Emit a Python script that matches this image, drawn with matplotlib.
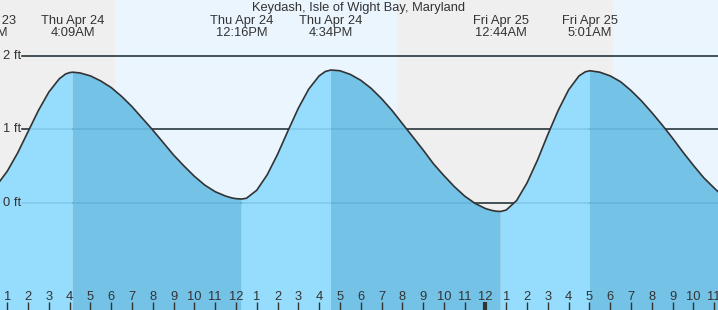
import numpy as np
import matplotlib
matplotlib.use("Agg")
import matplotlib.pyplot as plt

plt.rcParams['font.family'] = ['Liberation Sans', 'DejaVu Sans']

# tide height (ft), time in hours from Thu Apr 24 00:00
curve_hours = [0.5, 1.0, 1.5, 2.0, 2.5, 3.0, 3.5, 3.8, 4.0, 4.15,
               4.5, 5.0, 5.5, 6.0, 6.5, 7.0, 7.5, 8.0, 8.5, 9.0, 9.5, 10.0,
               10.5, 11.0, 11.5, 11.8, 12.0, 12.27,
               12.5, 13.0, 13.5, 14.0, 14.5, 15.0, 15.5, 16.0, 16.3, 16.57,
               17.0, 17.5, 18.0, 18.5, 19.0, 19.5, 20.0, 20.5, 21.0, 21.5,
               22.0, 22.5, 23.0, 23.5, 24.0, 24.3, 24.5, 24.73,
               25.0, 25.5, 26.0, 26.5, 27.0, 27.5, 28.0, 28.5, 28.8, 29.02,
               29.5, 30.0, 30.5, 31.0, 31.5, 32.0, 32.5, 33.0, 33.5, 34.0,
               34.5, 35.0, 35.5]
curve_ft = [0.24, 0.43, 0.68, 0.97, 1.26, 1.51, 1.69, 1.755, 1.775, 1.78,
            1.77, 1.73, 1.66, 1.57, 1.45, 1.31, 1.15, 0.99, 0.82, 0.65, 0.50, 0.36,
            0.24, 0.15, 0.09, 0.065, 0.055, 0.05,
            0.06, 0.17, 0.38, 0.66, 0.98, 1.29, 1.55, 1.73, 1.79, 1.81,
            1.80, 1.75, 1.67, 1.56, 1.42, 1.26, 1.08, 0.90, 0.72, 0.53,
            0.37, 0.22, 0.09, -0.01, -0.08, -0.105, -0.116, -0.12,
            -0.10, 0.03, 0.27, 0.58, 0.93, 1.26, 1.54, 1.73, 1.785, 1.80,
            1.78, 1.73, 1.65, 1.53, 1.39, 1.23, 1.06, 0.88, 0.69, 0.51,
            0.34, 0.20, 0.07]

# high / low tide labels
extreme_hours = [-0.2, 4.15, 12.27, 16.57, 24.73, 29.02]
extreme_day = ["Wed Apr 23", "Thu Apr 24", "Thu Apr 24", "Thu Apr 24", "Fri Apr 25", "Fri Apr 25"]
extreme_time = ["11:48PM", "4:09AM", "12:16PM", "4:34PM", "12:44AM", "5:01AM"]

sunrise = [6.18, 30.15]
sunset = [19.73, 43.7]

hour_ticks = list(range(1, 36))
ft_levels = [0, 1, 2]
ft_labels = ["0 ft", "1 ft", "2 ft"]

title = "Keydash, Isle of Wight Bay, Maryland"

night_col = "#efefef"
day_col = "#ebf5fe"
rise_col = "#96dcfc"
fall_col = "#74c2e6"
text_col = "#333333"
fs = 9.3

fig = plt.figure(figsize=(7.18, 3.10), dpi=100)
ax = fig.add_axes([0, 0, 1, 1])
ax.set_xlim(0.649, 35.185)
ax.set_ylim(-1.464, 2.765)
ax.axis("off")
ax.add_patch(plt.Rectangle((0, 0), 1, 1, transform=ax.transAxes, color=night_col, zorder=0))

for a, b in zip(sunrise, sunset):
    ax.axvspan(a, b, color=day_col, lw=0, zorder=0.5)

# grid lines (black on background)
for lv in ft_levels:
    ax.axhline(lv, xmin=22 / 718, xmax=1, color="#222222", lw=1.1, zorder=1)

t = np.array(curve_hours)
h = np.array(curve_ft)
d = np.diff(h)
rising = np.zeros(len(h), dtype=bool)
falling = np.zeros(len(h), dtype=bool)
rising[:-1] |= d > 0
rising[1:] |= d > 0
falling[:-1] |= d <= 0
falling[1:] |= d <= 0
ax.fill_between(t, h, -2, where=rising, color=rise_col, lw=0, zorder=2)
ax.fill_between(t, h, -2, where=falling, color=fall_col, lw=0, zorder=2)

# faint grid lines over the water
for lv in ft_levels:
    ax.axhline(lv, xmin=22 / 718, xmax=1, color="#1a6a96", alpha=0.18, lw=1.1, zorder=3)

ax.plot(t, h, color="#333333", lw=1.2, zorder=4, solid_joinstyle="round")

for lv, lab in zip(ft_levels, ft_labels):
    ax.text(3 / 718, lv, lab, transform=ax.get_yaxis_transform(), ha="left", va="center",
            fontsize=fs, color=text_col, zorder=5)

ax.text(359 / 718, 1 - 8 / 310, title, transform=ax.transAxes, ha="center", va="center",
        fontsize=fs, color=text_col)
for x, day, tm in zip(extreme_hours, extreme_day, extreme_time):
    ax.text(x, 1 - 21 / 310, day, transform=ax.get_xaxis_transform(), ha="center",
            va="center", fontsize=fs, color=text_col)
    ax.text(x, 1 - 33 / 310, tm, transform=ax.get_xaxis_transform(), ha="center",
            va="center", fontsize=fs, color=text_col)

# hour ticks along the bottom
for hr in hour_ticks:
    lab = str((hr - 1) % 12 + 1)
    ax.text(hr, 13.5 / 310, lab, transform=ax.get_xaxis_transform(), ha="center",
            va="center", fontsize=fs, color=text_col, zorder=5)
    ax.plot([hr, hr], [0, 8 / 310], transform=ax.get_xaxis_transform(),
            color=text_col, lw=3 if hr == 24 else 1, zorder=5, solid_capstyle="butt")

fig.savefig("out.png", dpi=100)
